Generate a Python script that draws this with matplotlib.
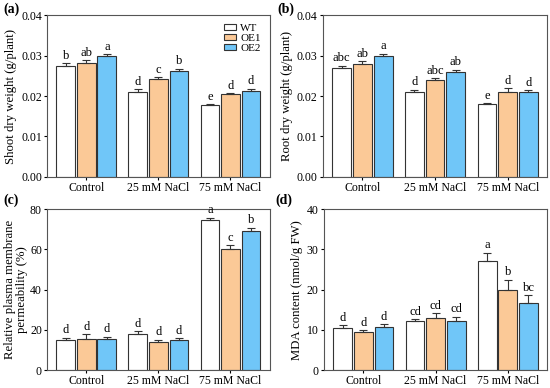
import numpy as np
import matplotlib
matplotlib.use("Agg")
import matplotlib.pyplot as plt

plt.rcParams['font.family'] = ['Liberation Serif', 'DejaVu Serif']

groups = ["Control", "25 mM NaCl", "75 mM NaCl"]
lines = ["WT", "OE1", "OE2"]
colors = ["#FFFFFF", "#FBC997", "#70C6F8"]

# rows = lines (WT, OE1, OE2), cols = groups
shoot_mean = [[0.0275, 0.0211, 0.0178],
              [0.0282, 0.0241, 0.0206],
              [0.0298, 0.0263, 0.0213]]
shoot_err = [[0.0006, 0.0006, 0.0002],
             [0.0006, 0.0006, 0.0001],
             [0.0006, 0.0005, 0.0005]]
shoot_sig = [["b", "d", "e"], ["ab", "c", "d"], ["a", "b", "d"]]

root_mean = [[0.0270, 0.0210, 0.0180],
             [0.0280, 0.0240, 0.0210],
             [0.0300, 0.0259, 0.0210]]
root_err = [[0.0005, 0.0006, 0.0002],
            [0.0006, 0.0005, 0.0010],
            [0.0005, 0.0006, 0.0004]]
root_sig = [["abc", "d", "e"], ["ab", "abc", "d"], ["a", "ab", "d"]]

perm_mean = [[15.2, 17.8, 74.5],
             [15.5, 14.2, 60.0],
             [15.6, 15.0, 69.0]]
perm_err = [[1.0, 1.5, 1.3],
            [2.5, 1.0, 2.2],
            [1.0, 1.0, 1.8]]
perm_sig = [["d", "d", "a"], ["d", "d", "c"], ["d", "d", "b"]]

mda_mean = [[10.5, 12.3, 27.2],
            [9.6, 13.0, 19.8],
            [10.6, 12.2, 16.6]]
mda_err = [[0.6, 0.4, 2.0],
           [0.3, 1.1, 2.7],
           [0.8, 1.1, 2.0]]
mda_sig = [["d", "cd", "a"], ["d", "cd", "b"], ["d", "cd", "bc"]]


def draw_panel(ax, mean, err, sig, ylim, yticks, fmt, ylabel, legend=False, labelpad=3):
    x = np.arange(len(groups))
    width = 0.26
    step = 0.285
    pad = ylim[1] * 0.008
    for i in range(len(lines)):
        pos = x + (i - 1) * step
        ax.bar(pos, mean[i], width, color=colors[i], edgecolor="#333333",
               linewidth=0.8, label=lines[i], zorder=2)
        ax.errorbar(pos, mean[i], yerr=[np.zeros(3), err[i]], fmt="none",
                    ecolor="#333333", elinewidth=0.8, capsize=3, capthick=0.8, zorder=3)
        for j in range(len(groups)):
            ax.text(pos[j], mean[i][j] + err[i][j] + pad, sig[i][j],
                    ha="center", va="bottom", fontsize=9)
    ax.set_xlim(-0.545, 2.545)
    ax.set_ylim(*ylim)
    ax.set_yticks(yticks)
    ax.set_yticklabels([fmt.format(v) for v in yticks])
    ax.set_xticks(x)
    ax.set_xticklabels(groups)
    ax.tick_params(direction="out", length=2.5, width=0.8, labelsize=8.5, pad=1.2)
    for s in ax.spines.values():
        s.set_linewidth(0.8)
        s.set_color("#555555")
    ax.set_ylabel(ylabel, fontsize=9.2, labelpad=labelpad, linespacing=1.0)
    if legend:
        ax.legend(loc="upper right", frameon=False, fontsize=8, handlelength=1.15,
                  handleheight=0.45, handletextpad=0.35, labelspacing=0.1,
                  borderaxespad=0.4)


fig = plt.figure(figsize=(5.5, 3.88), dpi=100)
ax_a = fig.add_axes([0.0855, 0.544, 0.405, 0.417])
ax_b = fig.add_axes([0.587, 0.544, 0.408, 0.417])
ax_c = fig.add_axes([0.0855, 0.046, 0.405, 0.415])
ax_d = fig.add_axes([0.589, 0.046, 0.406, 0.415])

draw_panel(ax_a, shoot_mean, shoot_err, shoot_sig, (0, 0.04),
           [0, 0.01, 0.02, 0.03, 0.04], "{:.2f}", "Shoot dry weight (g/plant)", legend=True)
draw_panel(ax_b, root_mean, root_err, root_sig, (0, 0.04),
           [0, 0.01, 0.02, 0.03, 0.04], "{:.2f}", "Root dry weight (g/plant)")
draw_panel(ax_c, perm_mean, perm_err, perm_sig, (0, 80),
           [0, 20, 40, 60, 80], "{:.0f}", "Relative plasma membrane\npermeability (%)",
           labelpad=1)
draw_panel(ax_d, mda_mean, mda_err, mda_sig, (0, 40),
           [0, 10, 20, 30, 40], "{:.0f}", "MDA content (nmol/g FW)")

for lab, (px, py) in zip(["(a)", "(b)", "(c)", "(d)"],
                         [(0.006, 0.975), (0.504, 0.975), (0.006, 0.484), (0.501, 0.484)]):
    fig.text(px, py, lab, fontsize=10, fontweight="bold", ha="left", va="center")

fig.savefig("out.png", dpi=100)
